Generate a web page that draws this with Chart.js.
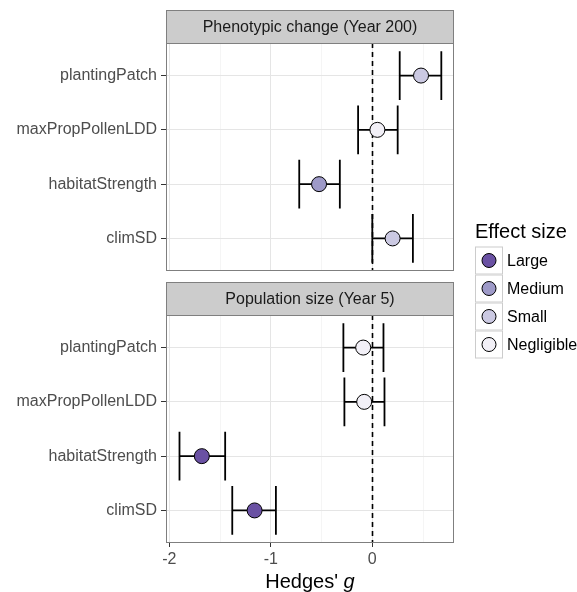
<!DOCTYPE html>
<html>
<head>
<meta charset="utf-8">
<script src="https://cdn.jsdelivr.net/npm/chart.js@4/dist/chart.umd.min.js"></script>
<style>
  html, body { margin: 0; padding: 0; background: #fff; }
  #wrap { position: relative; width: 577px; height: 592px; }
  #wrap canvas { position: absolute; left: 0; top: 0; }
</style>
</head>
<body>
<div id="wrap">
  <canvas id="phenoChart" width="577" height="592"></canvas>
  <canvas id="popChart" width="577" height="592"></canvas>
</div>
<script>
// data
const categories = ['plantingPatch', 'maxPropPollenLDD', 'habitatStrength', 'climSD'];
const panelTitles = ['Phenotypic change (Year 200)', 'Population size (Year 5)'];

const phenoEst = [0.48, 0.05, -0.525, 0.20];
const phenoLow = [0.27, -0.14, -0.72, 0.0];
const phenoHigh = [0.68, 0.25, -0.32, 0.40];
const phenoEffect = ['Small', 'Negligible', 'Medium', 'Small'];

const popEst = [-0.09, -0.08, -1.68, -1.16];
const popLow = [-0.285, -0.275, -1.90, -1.38];
const popHigh = [0.11, 0.12, -1.45, -0.95];
const popEffect = ['Negligible', 'Negligible', 'Large', 'Large'];

const effectLevels = ['Large', 'Medium', 'Small', 'Negligible'];
const effectColors = ['#6a51a3', '#9e9ac8', '#cbc9e2', '#f2f0f7'];

const xTicks = [-2, -1.5, -1, -0.5, 0, 0.5];
const xMin = -2.033, xMax = 0.805;
const xTitle = "Hedges' ";
const xTitleItalic = 'g';
const legendTitle = 'Effect size';

Chart.defaults.font.family = '"Liberation Sans", Arial, sans-serif';
const FONT = '"Liberation Sans", Arial, sans-serif';

const isMajor = c => c.tick && Number.isInteger(c.tick.value);

// error bars, zero line, panel border and facet strip
const forestPlugin = {
    id: 'forest',
    beforeDatasetsDraw(chart, args, opts) {
        const { ctx, chartArea: a, scales: { x, y } } = chart;
        ctx.save();
        const x0 = Math.round(x.getPixelForValue(0)) + 0.5;
        ctx.strokeStyle = '#000';
        ctx.lineWidth = 1.6;
        ctx.setLineDash([5, 4]);
        ctx.beginPath();
        ctx.moveTo(x0, a.top);
        ctx.lineTo(x0, a.bottom);
        ctx.stroke();
        ctx.setLineDash([]);

        ctx.lineWidth = 1.8;
        opts.low.forEach((lo, i) => {
            const yc = y.getPixelForValue(i + 1);
            const half = Math.abs(y.getPixelForValue(i + 1 + 0.45) - yc);
            const x1 = x.getPixelForValue(lo);
            const x2 = x.getPixelForValue(opts.high[i]);
            ctx.beginPath();
            ctx.moveTo(x1, yc); ctx.lineTo(x2, yc);
            ctx.moveTo(x1, yc - half); ctx.lineTo(x1, yc + half);
            ctx.moveTo(x2, yc - half); ctx.lineTo(x2, yc + half);
            ctx.stroke();
        });
        ctx.restore();
    },
    afterDraw(chart, args, opts) {
        const { ctx, chartArea: a } = chart;
        const stripH = 33;
        ctx.save();
        ctx.strokeStyle = '#7f7f7f';
        ctx.lineWidth = 1;
        ctx.strokeRect(a.left + 0.5, a.top + 0.5, a.width - 1, a.height - 1);

        ctx.fillStyle = '#cccccc';
        ctx.fillRect(a.left, a.top - stripH, a.width, stripH);
        ctx.strokeRect(a.left + 0.5, a.top - stripH + 0.5, a.width - 1, stripH);

        ctx.fillStyle = '#1a1a1a';
        ctx.font = '16px ' + FONT;
        ctx.textAlign = 'center';
        ctx.textBaseline = 'middle';
        ctx.fillText(opts.title, (a.left + a.right) / 2, a.top - stripH / 2 + 1);
        ctx.restore();
    }
};

// axis title with italic g, plus the effect size legend
const extrasPlugin = {
    id: 'extras',
    afterDraw(chart, args, opts) {
        if (!opts.show) return;
        const { ctx, chartArea: a } = chart;
        ctx.save();
        ctx.fillStyle = '#000';
        ctx.textBaseline = 'middle';
        ctx.font = '20px ' + FONT;
        const w1 = ctx.measureText(xTitle).width;
        ctx.font = 'italic 20px ' + FONT;
        const w2 = ctx.measureText(xTitleItalic).width;
        const tx = (a.left + a.right) / 2 - (w1 + w2) / 2;
        const ty = 582;
        ctx.textAlign = 'left';
        ctx.font = '20px ' + FONT;
        ctx.fillText(xTitle, tx, ty);
        ctx.font = 'italic 20px ' + FONT;
        ctx.fillText(xTitleItalic, tx + w1, ty);

        // legend
        const lx = a.right + 21;
        ctx.font = '20px ' + FONT;
        ctx.fillText(legendTitle, lx, 232);
        const key = 28, top = 246.5;
        effectLevels.forEach((lvl, i) => {
            const by = top + key * i;
            ctx.fillStyle = '#fff';
            ctx.fillRect(lx, by, key, key);
            ctx.strokeStyle = '#cccccc';
            ctx.lineWidth = 1;
            ctx.strokeRect(lx + 0.5, by + 0.5, key - 1, key - 1);
            ctx.beginPath();
            ctx.arc(lx + key / 2, by + key / 2, 7, 0, Math.PI * 2);
            ctx.fillStyle = effectColors[i];
            ctx.fill();
            ctx.strokeStyle = '#000';
            ctx.stroke();
            ctx.fillStyle = '#000';
            ctx.font = '16px ' + FONT;
            ctx.fillText(lvl, lx + key + 4, by + key / 2 + 1);
        });
        ctx.restore();
    }
};

function panelChart(id, est, low, high, effect, title, showX) {
    const ctx = document.getElementById(id).getContext('2d');
    return new Chart(ctx, {
        type: 'scatter',
        data: {
            datasets: [{
                data: est.map((v, i) => ({ x: v, y: i + 1 })),
                pointBackgroundColor: effect.map(e => effectColors[effectLevels.indexOf(e)]),
                pointBorderColor: '#000',
                pointBorderWidth: 1,
                pointRadius: 7.5,
                pointHoverRadius: 7.5,
                showLine: false
            }]
        },
        options: {
            responsive: false,
            animation: false,
            events: [],
            layout: {
                padding: showX
                    ? { top: 315, right: 123, bottom: 0, left: 0 }
                    : { top: 43, right: 123, bottom: 321, left: 0 }
            },
            plugins: {
                legend: { display: false },
                tooltip: { enabled: false },
                forest: { low: low, high: high, title: title },
                extras: { show: showX }
            },
            scales: {
                x: {
                    type: 'linear',
                    min: xMin,
                    max: xMax,
                    afterBuildTicks: s => { s.ticks = xTicks.map(v => ({ value: v })); },
                    afterFit: s => { s.height = showX ? 49 : 0; },
                    ticks: {
                        display: showX,
                        autoSkip: false,
                        maxRotation: 0,
                        padding: 3,
                        color: '#4d4d4d',
                        font: { size: 16 },
                        callback: v => Number.isInteger(v) ? String(v) : ''
                    },
                    grid: {
                        color: c => isMajor(c) ? '#e5e5e5' : '#f5f5f5',
                        drawTicks: showX,
                        tickLength: 4,
                        tickColor: c => isMajor(c) ? '#333333' : 'rgba(0,0,0,0)'
                    },
                    border: { display: false }
                },
                y: {
                    type: 'linear',
                    reverse: true,
                    min: 0.4,
                    max: 4.6,
                    afterBuildTicks: s => { s.ticks = categories.map((c, i) => ({ value: i + 1 })); },
                    afterFit: s => { s.width = 166; },
                    ticks: {
                        autoSkip: false,
                        padding: 4,
                        color: '#4d4d4d',
                        font: { size: 16 },
                        callback: v => categories[v - 1]
                    },
                    grid: {
                        color: '#e5e5e5',
                        tickLength: 5,
                        tickColor: '#333333'
                    },
                    border: { display: false }
                }
            }
        },
        plugins: [forestPlugin, extrasPlugin]
    });
}

panelChart('phenoChart', phenoEst, phenoLow, phenoHigh, phenoEffect, panelTitles[0], false);
panelChart('popChart', popEst, popLow, popHigh, popEffect, panelTitles[1], true);
</script>
</body>
</html>
